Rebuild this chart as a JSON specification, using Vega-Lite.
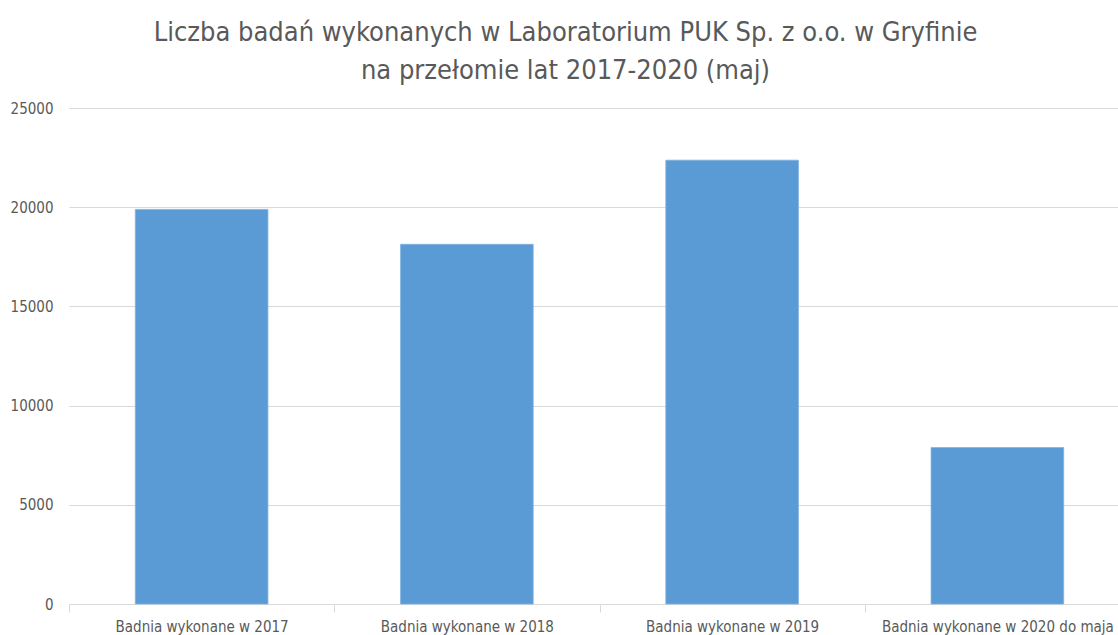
{
  "$schema": "https://vega.github.io/schema/vega-lite/v6.json",
  "autosize": "none",
  "width": 1049,
  "height": 496,
  "padding": {"left": 69, "top": 108, "right": 0, "bottom": 31},
  "background": "white",
  "title": {
    "text": ["Liczba badań wykonanych w Laboratorium PUK Sp. z o.o. w Gryfinie", "na przełomie lat 2017-2020 (maj)"],
    "font": "DejaVu Sans Condensed",
    "fontSize": 27,
    "fontWeight": "normal",
    "color": "#595959",
    "lineHeight": 38,
    "anchor": "middle",
    "dx": -28,
    "offset": 16
  },
  "data": {
    "values": [
      {"kategoria": "Badnia wykonane w 2017", "liczba": 19890},
      {"kategoria": "Badnia wykonane w 2018", "liczba": 18130},
      {"kategoria": "Badnia wykonane w 2019", "liczba": 22370},
      {"kategoria": "Badnia wykonane w 2020 do maja", "liczba": 7885}
    ]
  },
  "mark": {"type": "bar", "color": "#5B9BD5", "stroke": "#7FB1E0", "strokeWidth": 0.8, "width": {"band": 0.5}},
  "encoding": {
    "x": {
      "field": "kategoria",
      "type": "nominal",
      "sort": null,
      "scale": {"range": [0, 1061], "paddingInner": 0, "paddingOuter": 0},
      "axis": {
        "title": null,
        "labelAngle": 0,
        "labelFont": "DejaVu Sans Condensed",
        "labelFontSize": 15,
        "labelColor": "#595959",
        "labelPadding": 7,
        "labelLimit": 400,
        "tickBand": "extent",
        "tickColor": "#d9d9d9",
        "tickSize": 8,
        "domainColor": "#d9d9d9",
        "grid": false
      }
    },
    "y": {
      "field": "liczba",
      "type": "quantitative",
      "scale": {"domain": [0, 25000], "nice": false},
      "axis": {
        "title": null,
        "values": [0, 5000, 10000, 15000, 20000, 25000],
        "format": "d",
        "labelFont": "DejaVu Sans Condensed",
        "labelFontSize": 15,
        "labelColor": "#595959",
        "labelPadding": 16,
        "ticks": false,
        "domain": false,
        "gridColor": "#d9d9d9",
        "gridWidth": 1
      }
    }
  },
  "config": {"view": {"stroke": null}}
}
